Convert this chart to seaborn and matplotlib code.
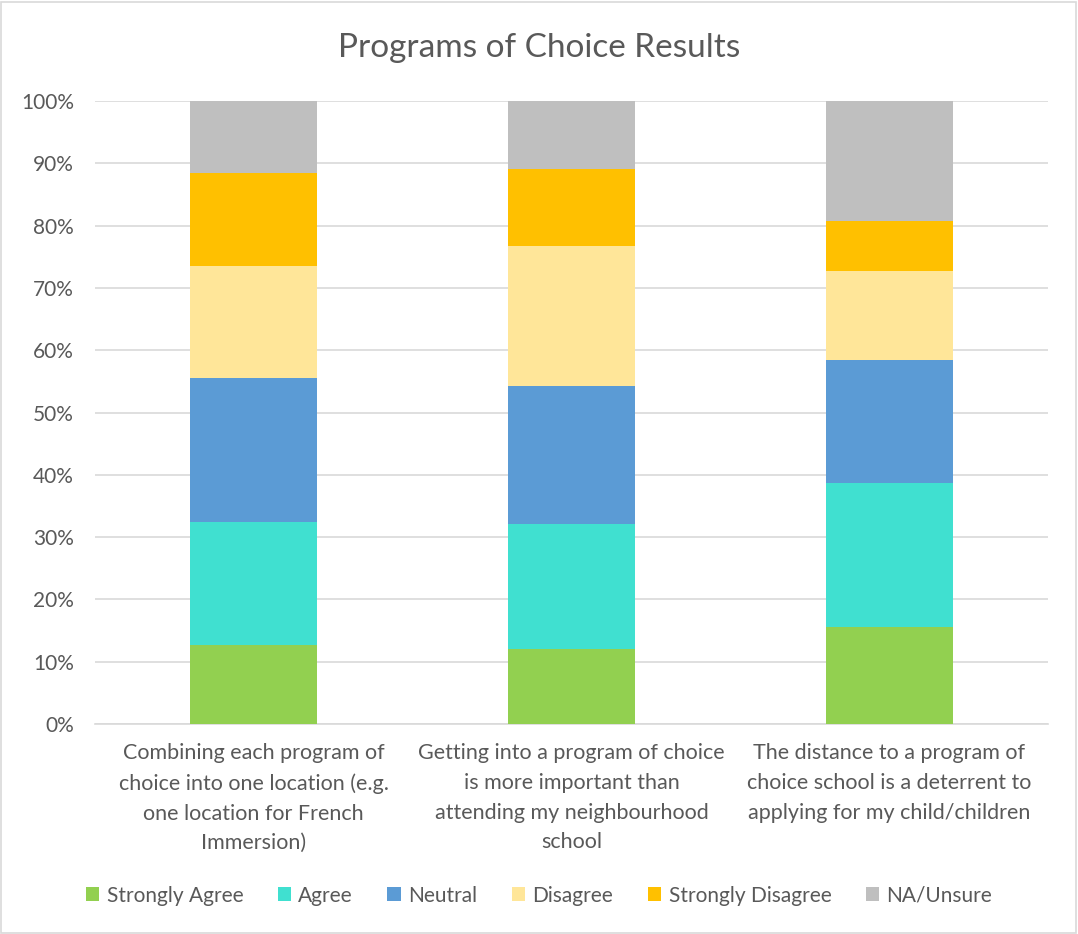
import matplotlib
matplotlib.use("Agg")
import matplotlib.pyplot as plt
import seaborn as sns
import numpy as np
from matplotlib.patches import Patch
from matplotlib.ticker import FuncFormatter, MultipleLocator

categories = [
    "Combining each program of\nchoice into one location (e.g.\none location for French\nImmersion)",
    "Getting into a program of choice\nis more important than\nattending my neighbourhood\nschool",
    "The distance to a program of\nchoice school is a deterrent to\napplying for my child/children",
]
series_names = ["Strongly Agree", "Agree", "Neutral", "Disagree", "Strongly Disagree", "NA/Unsure"]
strongly_agree = [12.7, 12.0, 15.5]
agree = [19.7, 20.1, 23.2]
neutral = [23.1, 22.2, 19.8]
disagree = [18.0, 22.4, 14.2]
strongly_disagree = [15.0, 12.4, 8.0]
na_unsure = [11.5, 10.9, 19.3]
colors = ["#92D050", "#40E0D0", "#5B9BD5", "#FFE699", "#FFC000", "#BFBFBF"]

sns.set_theme(style="white")
plt.rcParams["font.family"] = ["Lato", "DejaVu Sans"]
text_color = "#595959"

fig = plt.figure(figsize=(10.78, 9.34), dpi=100)
ax = fig.add_axes([0.0881, 0.2248, 0.884, 0.667])

all_series = [strongly_agree, agree, neutral, disagree, strongly_disagree, na_unsure]
cum = np.zeros(len(categories))
for name, vals, col in zip(series_names, all_series, colors):
    sns.barplot(x=list(range(len(categories))), y=vals, bottom=cum, color=col,
                width=0.4, ax=ax, linewidth=0, saturation=1, label=name, zorder=3)
    cum = cum + np.array(vals)

ax.set_xlim(-0.5, 2.5)
ax.set_ylim(0, 100)
ax.yaxis.set_major_locator(MultipleLocator(10))
ax.yaxis.set_major_formatter(FuncFormatter(lambda v, p: f"{v:.0f}%"))
ax.grid(axis="y", color="#D9D9D9", linewidth=1.2, zorder=0)
ax.set_axisbelow(True)
for s in ["top", "right", "left"]:
    ax.spines[s].set_visible(False)
ax.spines["bottom"].set_color("#D9D9D9")
ax.spines["bottom"].set_linewidth(1.2)
ax.set_xticks(range(len(categories)))
ax.set_xticklabels(categories, fontsize=15.5, color=text_color, linespacing=1.6)
ax.tick_params(axis="y", labelsize=15, colors=text_color, length=0, pad=15)
ax.tick_params(axis="x", length=0, pad=14)
ax.set_xlabel("")
ax.set_ylabel("")
if ax.get_legend() is not None:
    ax.get_legend().remove()

fig.text(0.5, 0.949, "Programs of Choice Results", ha="center", va="center",
         fontsize=24, color=text_color)

handles = [Patch(facecolor=c, edgecolor="none") for c in colors]
fig.legend(handles, series_names, loc="center", bbox_to_anchor=(0.5, 0.041), ncol=6,
           frameon=False, fontsize=15, labelcolor=text_color, handlelength=0.65,
           handleheight=0.65, handletextpad=0.35, columnspacing=1.65)

fig.patches.append(plt.Rectangle((0.001, 0.001), 0.997, 0.997, transform=fig.transFigure,
                                 fill=False, edgecolor="#D9D9D9", linewidth=1.2))

fig.savefig("out.png", dpi=100)
